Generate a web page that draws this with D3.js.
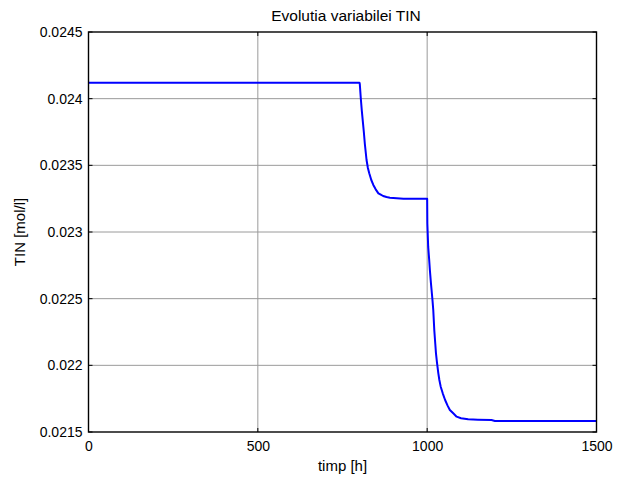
<!DOCTYPE html>
<html>
<head>
<meta charset="utf-8">
<script src="https://cdn.jsdelivr.net/npm/d3@7"></script>
<style>
  html, body { margin: 0; padding: 0; background: #fff; }
  svg { display: block; font-family: "Liberation Sans", Arial, Helvetica, sans-serif; }
</style>
</head>
<body>
<svg id="chart" width="624" height="482"></svg>
<script>
// Simulated TIN concentration over time (two step changes at 800 h and 1000 h)
const timeH = [0, 800, 801, 804, 807, 810, 813, 816, 821, 825, 829, 835, 841, 848, 856, 863, 870, 880, 890, 910, 930,
               1000, 1000.5, 1003, 1006, 1008, 1011, 1013, 1016, 1018, 1021, 1024, 1026, 1029, 1033, 1036, 1040, 1046,
               1053, 1060, 1067, 1077, 1087, 1100, 1121, 1150, 1190, 1200, 1500];
const tinVals = [0.02412, 0.02412, 0.024112, 0.024003, 0.02391, 0.02383, 0.02375, 0.02366, 0.02354, 0.02348, 0.02344, 0.02339,
                 0.023353, 0.02332, 0.02329, 0.02328, 0.02327, 0.023262, 0.023257, 0.023253, 0.02325,
                 0.02325, 0.023065, 0.02289, 0.02279, 0.022715, 0.02262, 0.022565, 0.02248, 0.022415, 0.022265, 0.02216,
                 0.02209, 0.02202, 0.02194, 0.02189, 0.02184, 0.02179, 0.02174, 0.0217, 0.021665, 0.02164, 0.021615,
                 0.021603, 0.021595, 0.021592, 0.02159, 0.021583, 0.021583];

const xTicks = [0, 500, 1000, 1500];
const yTicks = [0.0215, 0.022, 0.0225, 0.023, 0.0235, 0.024, 0.0245];
const yTickLabels = ["0.0215", "0.022", "0.0225", "0.023", "0.0235", "0.024", "0.0245"];

const titleText = "Evolutia variabilei TIN";
const xLabel = "timp [h]";
const yLabel = "TIN [mol/l]";

const svg = d3.select("#chart");
const plotL = 88.5, plotR = 596.5, plotT = 32, plotB = 432;

const x = d3.scaleLinear().domain([0, 1500]).range([plotL, plotR]);
const y = d3.scaleLinear().domain([0.0215, 0.0245]).range([plotB, plotT]);

// grid lines
const grid = svg.append("g");
grid.selectAll("line.gx").data(xTicks.slice(1, -1)).enter().append("line")
  .attr("x1", d => x(d)).attr("x2", d => x(d))
  .attr("y1", plotT).attr("y2", plotB)
  .attr("stroke", "#9a9a9a").attr("stroke-width", 1);
grid.selectAll("line.gy").data(yTicks.slice(1, -1)).enter().append("line")
  .attr("x1", plotL).attr("x2", plotR)
  .attr("y1", d => y(d)).attr("y2", d => y(d))
  .attr("stroke", "#9a9a9a").attr("stroke-width", 1);

// data curve
const pts = timeH.map((t, i) => [t, tinVals[i]]);
svg.append("path")
  .datum(pts)
  .attr("fill", "none")
  .attr("stroke", "#0000ff")
  .attr("stroke-width", 2)
  .attr("stroke-linejoin", "round")
  .attr("d", d3.line().x(d => x(d[0])).y(d => y(d[1])));

// axes with inward ticks on all four sides
const tickLen = 4;
const bottomAxis = d3.axisBottom(x).tickValues(xTicks).tickSize(0).tickPadding(9).tickFormat(d3.format("d"));
const leftAxis = d3.axisLeft(y).tickValues(yTicks).tickSize(0).tickPadding(6)
  .tickFormat((d, i) => yTickLabels[i]);

const gx = svg.append("g").attr("transform", `translate(0,${plotB})`).call(bottomAxis);
const gy = svg.append("g").attr("transform", `translate(${plotL},0)`).call(leftAxis);
[gx, gy].forEach(g => {
  g.select(".domain").remove();
  g.selectAll("text").attr("font-size", 14).attr("fill", "#000")
    .attr("font-family", "'Liberation Sans', Arial, sans-serif");
});

const ticks = svg.append("g").attr("stroke", "#000").attr("stroke-width", 1);
xTicks.forEach(t => {
  ticks.append("line").attr("x1", x(t)).attr("x2", x(t)).attr("y1", plotB).attr("y2", plotB - tickLen);
  ticks.append("line").attr("x1", x(t)).attr("x2", x(t)).attr("y1", plotT).attr("y2", plotT + tickLen);
});
yTicks.forEach(t => {
  ticks.append("line").attr("x1", plotL).attr("x2", plotL + tickLen).attr("y1", y(t)).attr("y2", y(t));
  ticks.append("line").attr("x1", plotR).attr("x2", plotR - tickLen).attr("y1", y(t)).attr("y2", y(t));
});

// box
svg.append("rect")
  .attr("x", plotL).attr("y", plotT)
  .attr("width", plotR - plotL).attr("height", plotB - plotT)
  .attr("fill", "none").attr("stroke", "#000").attr("stroke-width", 1.4);

// title and axis labels
svg.append("text").attr("x", 346).attr("y", 21).attr("text-anchor", "middle")
  .attr("font-size", 15.5).text(titleText);
svg.append("text").attr("x", (plotL + plotR) / 2).attr("y", 471).attr("text-anchor", "middle")
  .attr("font-size", 15).text(xLabel);
svg.append("text").attr("transform", `translate(25,${(plotT + plotB) / 2}) rotate(-90)`)
  .attr("text-anchor", "middle").attr("font-size", 15).text(yLabel);
</script>
</body>
</html>
